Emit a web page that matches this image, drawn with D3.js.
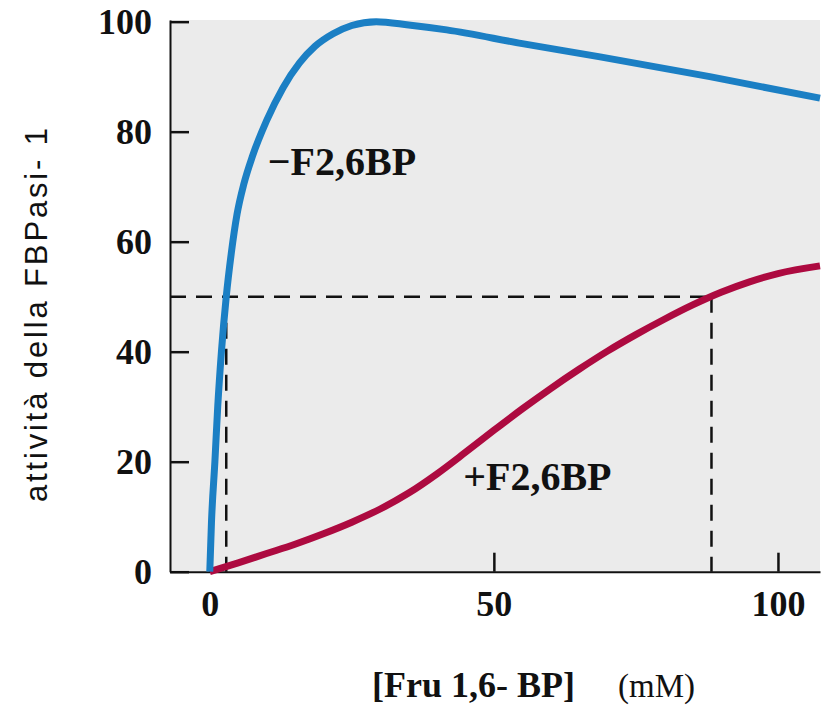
<!DOCTYPE html>
<html>
<head>
<meta charset="utf-8">
<script src="https://cdn.jsdelivr.net/npm/d3@7"></script>
<style>
  body { margin: 0; background: #fff; }
  svg { display: block; }
</style>
</head>
<body>
<div id="chart"></div>
<script>
// Data: [Fru 1,6-BP] (mM) vs activity
const minusF26BP = [
  [0, 0], [0.3, 9], [0.9, 20], [1.4, 30], [2.05, 40], [2.9, 50], [3.8, 58],
  [4.8, 65], [6, 70.5], [7.5, 75.5], [10, 82], [12.9, 88], [15.8, 92.5],
  [18.5, 95.5], [21.7, 97.8], [25, 99.3], [29.3, 100], [35, 99.4],
  [41.7, 98.5], [55, 96], [68.7, 93.6], [88, 90], [107.4, 86.1]
];
const plusF26BP = [
  [0, 0], [5, 1.6], [10, 3.3], [15, 5.0], [20, 6.9], [25, 9.0], [30, 11.4],
  [35, 14.3], [40, 17.8], [45, 21.7], [50, 25.7], [55, 29.6], [60, 33.3],
  [65, 36.8], [70, 40.1], [75, 43.1], [80, 45.9], [85, 48.5], [90, 50.8],
  [95, 52.7], [100, 54.2], [107.4, 55.6]
];
// half-maximal guide lines
const halfLevel = 50;
const halfX = [2.9, 88.3];

const xTicks = [0, 50, 100];
const yTicks = [0, 20, 40, 60, 80, 100];

const curveLabels = [
  { text: "\u2212F2,6BP", x: 10.2, y: 72.1 },
  { text: "+F2,6BP", x: 44.6, y: 14.9 }
];

const width = 832, height = 709;

const svg = d3.select("#chart").append("svg")
  .attr("width", width)
  .attr("height", height);

const x = d3.scaleLinear().domain([-7, 107.4]).range([170, 820]);
const y = d3.scaleLinear().domain([0, 100.3]).range([571.7, 20]);

// plot background
svg.append("rect")
  .attr("x", x.range()[0])
  .attr("y", y.range()[1])
  .attr("width", x.range()[1] - x.range()[0])
  .attr("height", y.range()[0] - y.range()[1])
  .attr("fill", "#ebebeb");

// dashed guides
const dash = "16,10";
svg.append("line")
  .attr("x1", x.range()[0]).attr("x2", x(halfX[1]))
  .attr("y1", y(halfLevel)).attr("y2", y(halfLevel))
  .attr("stroke", "#111").attr("stroke-width", 2.5)
  .attr("stroke-dasharray", dash);

svg.selectAll(".vguide")
  .data(halfX)
  .enter()
  .append("line")
  .attr("class", "vguide")
  .attr("x1", d => x(d)).attr("x2", d => x(d))
  .attr("y1", y(halfLevel)).attr("y2", y(0))
  .attr("stroke", "#111").attr("stroke-width", 2.5)
  .attr("stroke-dasharray", dash);

// axes
const tickFont = "'Liberation Serif', 'DejaVu Serif', serif";

const yAxis = svg.append("g")
  .attr("transform", `translate(${x.range()[0]},0)`)
  .call(d3.axisLeft(y).tickValues(yTicks).tickSize(-19).tickSizeOuter(0).tickPadding(18));

const xAxis = svg.append("g")
  .attr("transform", `translate(0,${y(0)})`)
  .call(d3.axisBottom(x).tickValues(xTicks).tickSize(-19).tickSizeOuter(0).tickPadding(19));

[xAxis, yAxis].forEach(g => {
  g.select(".domain").attr("stroke", "#111").attr("stroke-width", 2);
  g.selectAll(".tick line").attr("stroke", "#111").attr("stroke-width", 2.5);
  g.selectAll(".tick text")
    .attr("fill", "#111")
    .style("font-family", tickFont)
    .style("font-weight", "bold")
    .style("font-size", "36px");
});

// curves
const line = d3.line()
  .x(d => x(d[0]))
  .y(d => y(d[1]))
  .curve(d3.curveMonotoneX);

svg.append("path")
  .datum(plusF26BP)
  .attr("d", line)
  .attr("fill", "none")
  .attr("stroke", "#ad0a40")
  .attr("stroke-width", 7);

svg.append("path")
  .datum(minusF26BP)
  .attr("d", line)
  .attr("fill", "none")
  .attr("stroke", "#1b7fc4")
  .attr("stroke-width", 7);

// curve labels
svg.selectAll(".clabel")
  .data(curveLabels)
  .enter()
  .append("text")
  .attr("class", "clabel")
  .attr("x", d => x(d.x))
  .attr("y", d => y(d.y))
  .attr("fill", "#111")
  .style("font-family", tickFont)
  .style("font-weight", "bold")
  .style("font-size", "40px")
  .text(d => d.text);

// axis titles
svg.append("text")
  .attr("transform", "translate(47,315) rotate(-90)")
  .attr("text-anchor", "middle")
  .attr("textLength", 374)
  .attr("lengthAdjust", "spacing")
  .attr("fill", "#111")
  .style("font-family", "'Liberation Sans', Arial, sans-serif")
  .style("font-size", "31px")
  .text("attività della FBPasi- 1");

svg.append("text")
  .attr("x", 372)
  .attr("y", 697)
  .attr("fill", "#111")
  .style("font-family", tickFont)
  .style("font-weight", "bold")
  .style("font-size", "36px")
  .text("[Fru 1,6- BP]");

svg.append("text")
  .attr("x", 618)
  .attr("y", 697)
  .attr("fill", "#111")
  .style("font-family", tickFont)
  .style("font-size", "33px")
  .text("(mM)");
</script>
</body>
</html>
